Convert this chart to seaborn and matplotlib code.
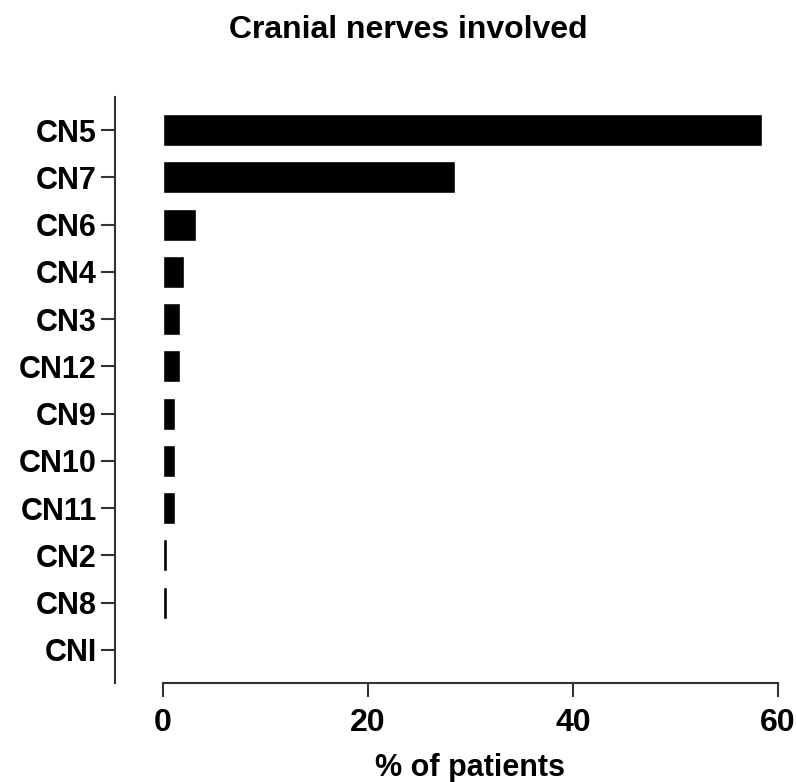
import numpy as np
import pandas as pd
import matplotlib
matplotlib.use("Agg")
import matplotlib.pyplot as plt
import seaborn as sns

nerves = ["CN5", "CN7", "CN6", "CN4", "CN3", "CN12", "CN9", "CN10", "CN11", "CN2", "CN8", "CNI"]
percent = [58.4, 28.5, 3.2, 2.0, 1.6, 1.6, 1.15, 1.15, 1.15, 0.35, 0.35, 0.0]
x_ticks = [0, 20, 40, 60]

sns.set_style("white")
plt.rcParams['font.family'] = ['Liberation Sans', 'DejaVu Sans']
plt.rcParams['text.color'] = 'black'
plt.rcParams['xtick.color'] = 'black'
plt.rcParams['ytick.color'] = 'black'
plt.rcParams['axes.labelcolor'] = 'black'

df = pd.DataFrame({"nerve": nerves, "percent": percent})

fig = plt.figure(figsize=(7.96, 7.82), dpi=100)
ax = fig.add_axes([115/796, 1 - 683/782, (778 - 115)/796, (683 - 97)/782])

sns.barplot(data=df, x="percent", y="nerve", color="black", saturation=1,
            width=0.68, ax=ax, orient="h")

ax.set_xlim(-4.7, 60)
ax.set_ylim(11.7, -0.7)
ax.set_xticks(x_ticks)
ax.set_xticklabels([str(t) for t in x_ticks], fontsize=23, fontweight="bold")
ax.set_yticks(range(len(nerves)))
ax.set_yticklabels(nerves, fontsize=22, fontweight="bold")

for side in ["top", "right"]:
    ax.spines[side].set_visible(False)
for side in ["left", "bottom"]:
    ax.spines[side].set_linewidth(1.5)
    ax.spines[side].set_color("#333333")
ax.spines["bottom"].set_bounds(0, 60)

ax.tick_params(axis="both", bottom=True, left=True, length=10, width=1.5,
               color="#333333", direction="out")
ax.tick_params(axis="y", pad=3)
ax.tick_params(axis="x", pad=8)

ax.set_ylabel("")
ax.set_xlabel("% of patients", fontsize=22, fontweight="bold")
ax.xaxis.set_label_coords((470 - 115) / (778 - 115), -0.12)

fig.text(408/796, 1 - 30/782, "Cranial nerves involved", fontsize=23,
         fontweight="bold", ha="center", va="center")

fig.savefig("out.png", dpi=100)
